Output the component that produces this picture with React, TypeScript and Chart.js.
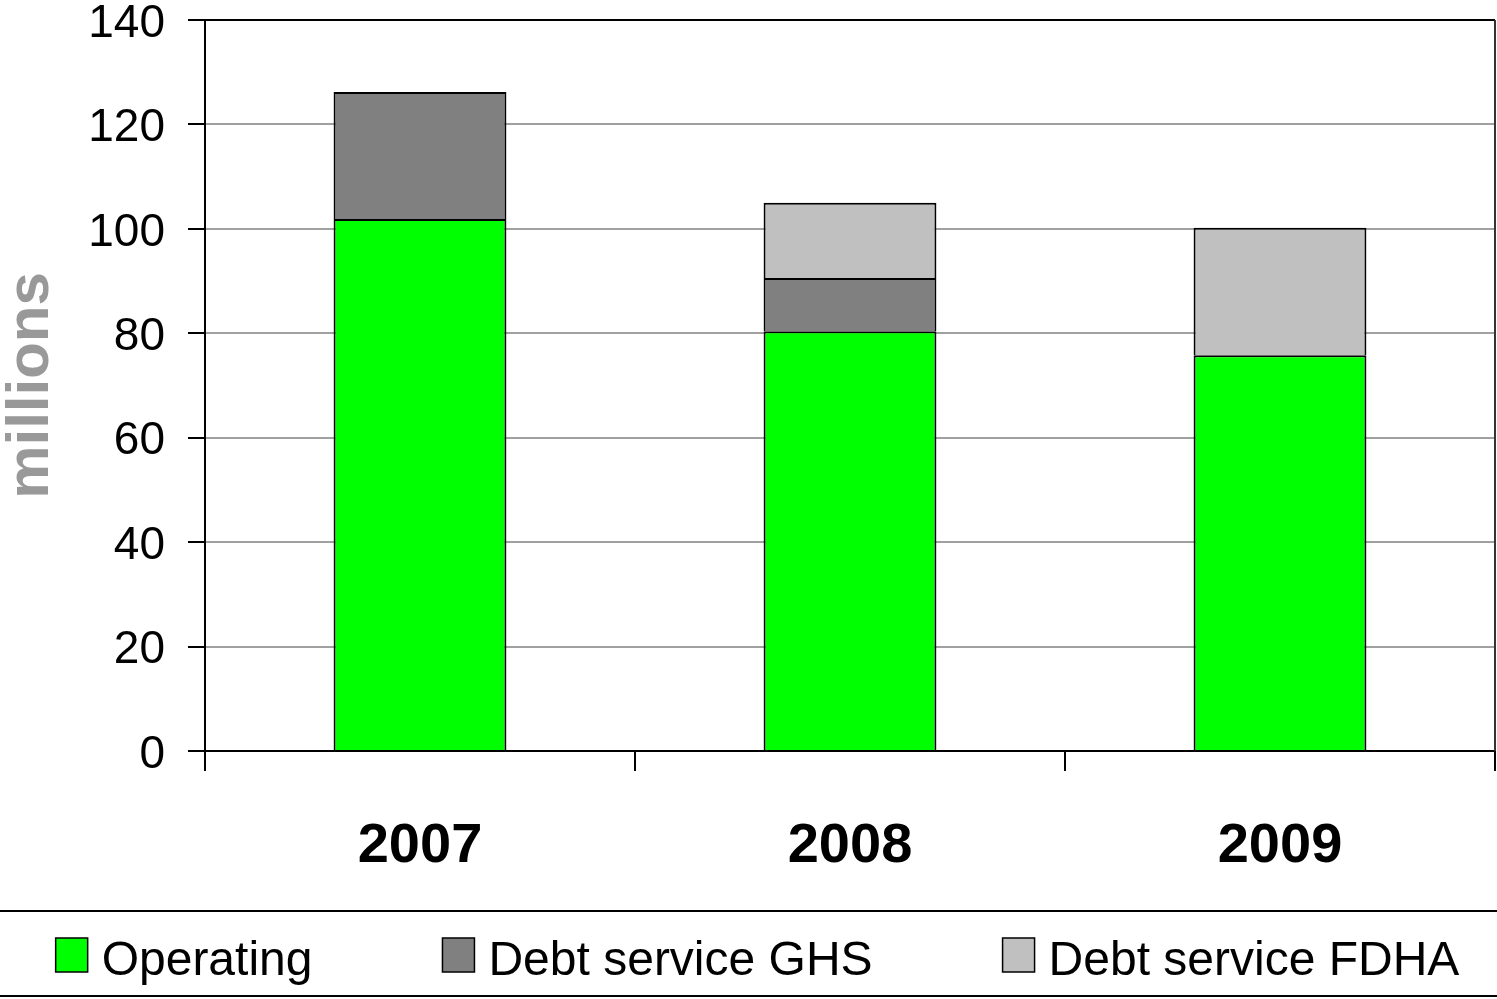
import React, { useEffect, useRef } from "react";
import { Chart, registerables } from "chart.js";

Chart.register(...registerables);

const categories = ["2007", "2008", "2009"];
const operating = [101.9, 80.4, 75.8];
const debtGHS = [24.3, 10.2, null];
const debtFDHA = [null, 14.4, 24.4];
const seriesLabels = ["Operating", "Debt service GHS", "Debt service FDHA"];
const yTicks = [0, 20, 40, 60, 80, 100, 120, 140];

const W = 1497;
const H = 999;
const FONT = "'Liberation Sans', Arial, sans-serif";

const framePlugin = {
  id: "frame",
  afterDraw(chart: any) {
    const { ctx, chartArea } = chart;
    ctx.save();
    ctx.strokeStyle = "#000";
    ctx.lineWidth = 2;
    ctx.beginPath();
    ctx.moveTo(chartArea.left - 17, chartArea.top);
    ctx.lineTo(chartArea.right, chartArea.top);
    ctx.stroke();
    ctx.strokeStyle = "#333";
    ctx.beginPath();
    ctx.moveTo(chartArea.right, chartArea.top);
    ctx.lineTo(chartArea.right, chartArea.bottom);
    ctx.stroke();
    ctx.restore();
  },
};

const legendPlugin = {
  id: "customLegend",
  afterDraw(chart: any) {
    const { ctx } = chart;
    const width = chart.width;
    ctx.save();
    ctx.strokeStyle = "#000";
    ctx.lineWidth = 2;
    ctx.beginPath();
    ctx.moveTo(0, 911);
    ctx.lineTo(width, 911);
    ctx.moveTo(0, 996);
    ctx.lineTo(width, 996);
    ctx.stroke();

    ctx.font = `48px ${FONT}`;
    const box = 32;
    const boxGap = 14;
    const itemGap = 130;
    const ds = chart.data.datasets;
    const widths = ds.map((d: any) => ctx.measureText(d.label).width);
    const total =
      widths.reduce((a: number, b: number) => a + b, 0) +
      ds.length * (box + boxGap) +
      (ds.length - 1) * itemGap;
    let x = (width - total) / 2 + 9;
    ds.forEach((d: any, i: number) => {
      ctx.fillStyle = d.backgroundColor;
      ctx.fillRect(x, 938, box, 34);
      ctx.lineWidth = 1.5;
      ctx.strokeStyle = "#000";
      ctx.strokeRect(x, 938, box, 34);
      ctx.fillStyle = "#000";
      ctx.textBaseline = "alphabetic";
      ctx.textAlign = "left";
      ctx.fillText(d.label, x + box + boxGap, 975);
      x += box + boxGap + widths[i] + itemGap;
    });
    ctx.restore();
  },
};

export default function App() {
  const ref = useRef<HTMLCanvasElement | null>(null);

  useEffect(() => {
    document.body.style.margin = "0";
    document.body.style.overflow = "hidden";
    if (!ref.current) return;
    const colors = ["#00ff00", "#808080", "#c0c0c0"];
    const values = [operating, debtGHS, debtFDHA];
    const chart = new Chart(ref.current, {
      type: "bar",
      data: {
        labels: categories,
        datasets: values.map((v, i) => ({
          label: seriesLabels[i],
          data: v as any,
          backgroundColor: colors[i],
          borderColor: "#000",
          borderWidth: 2,
          borderSkipped: "start",
          categoryPercentage: 1,
          barPercentage: 0.402,
        })),
      },
      options: {
        responsive: false,
        animation: false,
        devicePixelRatio: 1,
        layout: { padding: { top: 20, right: 2, left: 0, bottom: 88 } },
        plugins: {
          legend: { display: false },
          tooltip: { enabled: false },
        },
        scales: {
          x: {
            stacked: true,
            afterFit(scale: any) {
              scale.height = 160;
              scale.paddingLeft = 0;
              scale.paddingRight = 0;
            },
            grid: {
              offset: true,
              drawOnChartArea: false,
              drawTicks: true,
              tickLength: 20,
              color: "#000",
              lineWidth: 2,
            },
            border: { display: true, color: "#000", width: 2 },
            ticks: {
              font: { family: FONT, size: 56, weight: "bold" },
              color: "#000",
              padding: 42,
            },
          },
          y: {
            stacked: true,
            min: 0,
            max: 140,
            afterFit(scale: any) {
              scale.width = 205;
              scale.paddingTop = 0;
              scale.paddingBottom = 0;
            },
            afterBuildTicks(scale: any) {
              scale.ticks = yTicks.map((v) => ({ value: v }));
            },
            grid: {
              color: "#a0a0a0",
              lineWidth: 2,
              tickColor: "#000",
              tickLength: 17,
              drawTicks: true,
            },
            border: { display: true, color: "#000", width: 2 },
            ticks: {
              font: { family: FONT, size: 46 },
              color: "#000",
              padding: 23,
              labelOffset: 4,
            },
            title: {
              display: true,
              text: "millions",
              color: "#999999",
              font: { family: FONT, size: 60, weight: "bold" },
              padding: { top: -5, bottom: 5 },
            },
          },
        },
      },
      plugins: [framePlugin, legendPlugin],
    });
    return () => chart.destroy();
  }, []);

  return (
    <div style={{ width: W, height: H }}>
      <canvas ref={ref} width={W} height={H} style={{ display: "block" }} />
    </div>
  );
}
